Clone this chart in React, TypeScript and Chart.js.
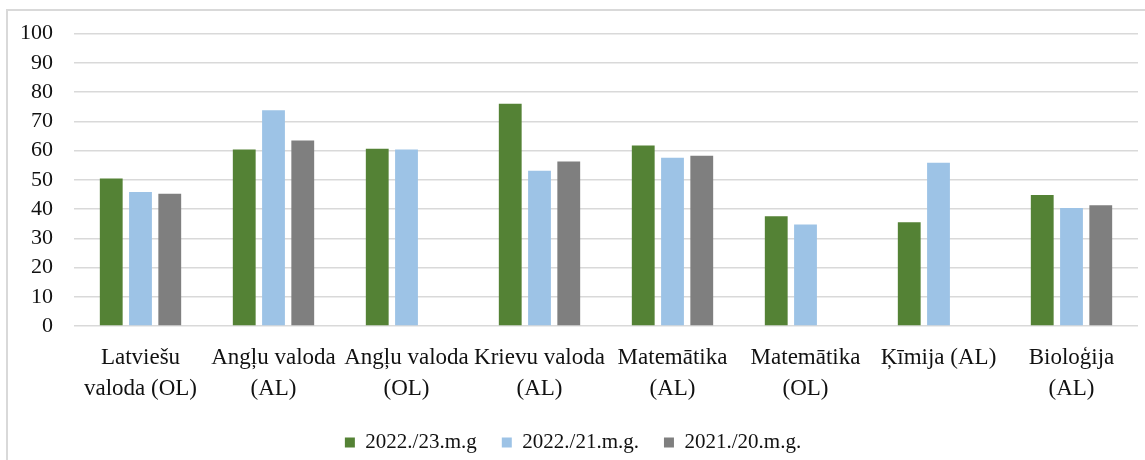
import React, { useEffect, useRef } from "react";
import { Chart, registerables } from "chart.js";

Chart.register(...registerables);

const categories: (string | string[])[] = [
  ["Latviešu", "valoda (OL)"],
  ["Angļu valoda", "(AL)"],
  ["Angļu valoda", "(OL)"],
  ["Krievu valoda", "(AL)"],
  ["Matemātika", "(AL)"],
  ["Matemātika", "(OL)"],
  "Ķīmija (AL)",
  ["Bioloģija", "(AL)"],
];

const seriesNames = ["2022./23.m.g", "2022./21.m.g.", "2021./20.m.g."];
const series2023: (number | null)[] = [50.4, 60.3, 60.6, 76.0, 61.7, 37.5, 35.5, 44.8];
const series2021: (number | null)[] = [45.8, 73.8, 60.3, 53.1, 57.5, 34.7, 55.8, 40.3];
const series2020: (number | null)[] = [45.2, 63.4, null, 56.2, 58.2, null, null, 41.3];
const seriesColors = ["#548235", "#9DC3E6", "#7F7F7F"];

const yMin = 0;
const yMax = 100;
const yStep = 10;

const FONT = "'Liberation Serif', 'Times New Roman', serif";
const TEXT = "#111111";

export default function App() {
  const ref = useRef<HTMLCanvasElement | null>(null);

  useEffect(() => {
    if (!ref.current) return;
    const values = [series2023, series2021, series2020];
    const chart = new Chart(ref.current, {
      type: "bar",
      data: {
        labels: categories,
        datasets: values.map((v, i) => ({
          label: seriesNames[i],
          data: v,
          backgroundColor: seriesColors[i],
          borderWidth: 0,
          categoryPercentage: 0.66,
          barPercentage: 0.78,
        })),
      },
      options: {
        animation: false,
        responsive: false,
        layout: { padding: { top: 22.5, right: 7, left: 0, bottom: 0 } },
        plugins: {
          tooltip: { enabled: false },
          legend: {
            position: "bottom",
            labels: {
              boxWidth: 10,
              boxHeight: 10,
              padding: 25,
              color: TEXT,
              font: { family: FONT, size: 21 },
            },
          },
        },
        scales: {
          x: {
            grid: { display: false },
            border: { display: false },
            ticks: {
              color: TEXT,
              padding: 8,
              maxRotation: 0,
              autoSkip: false,
              font: { family: FONT, size: 23, lineHeight: 1.35 },
            },
            afterFit: (scale: any) => {
              scale.height = 81;
              scale.paddingLeft = 0;
              scale.paddingRight = 0;
            },
          },
          y: {
            min: yMin,
            max: yMax,
            grid: { color: "#d9d9d9", lineWidth: 1.5, drawTicks: false },
            border: { display: false },
            ticks: {
              stepSize: yStep,
              autoSkip: false,
              color: TEXT,
              padding: 21,
              font: { family: FONT, size: 22 },
            },
            afterFit: (scale: any) => {
              scale.width = 66;
              scale.paddingTop = 0;
              scale.paddingBottom = 0;
            },
          },
        },
      },
    } as any);
    return () => chart.destroy();
  }, []);

  return (
    <div
      style={{
        position: "fixed",
        left: 6,
        top: 9,
        borderLeft: "2px solid #d9d9d9",
        borderTop: "2px solid #d9d9d9",
        background: "#fff",
      }}
    >
      <canvas ref={ref} width={1137} height={452} style={{ display: "block" }} />
    </div>
  );
}
